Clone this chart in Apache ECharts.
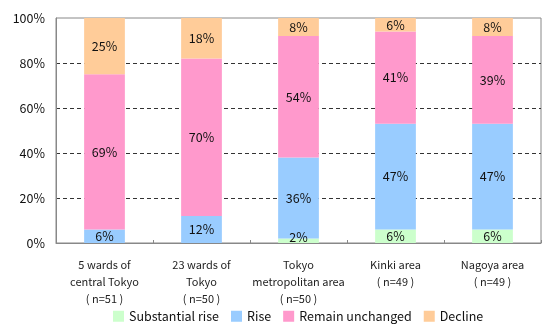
<!DOCTYPE html>
<html>
<head>
<meta charset="utf-8">
<script src="https://cdn.jsdelivr.net/npm/echarts@6/dist/echarts.min.js"></script>
<style>
  html, body { margin: 0; padding: 0; background: #fff; }
  #chart { width: 543px; height: 325px; }
</style>
</head>
<body>
<div id="chart"></div>
<script>
// Regions surveyed, with sample size
const categories = [
  '5 wards of\ncentral Tokyo\n( n=51 )',
  '23 wards of\nTokyo\n( n=50 )',
  'Tokyo\nmetropolitan area\n( n=50 )',
  'Kinki area\n( n=49 )',
  'Nagoya area\n( n=49 )'
];

// Share of responses (%) per outlook
const substantialRise = [0, 0, 2, 6, 6];
const rise            = [6, 12, 36, 47, 47];
const remainUnchanged = [69, 70, 54, 41, 39];
const decline         = [25, 18, 8, 6, 8];

const yTicks = [0, 20, 40, 60, 80, 100];

const FONT = '"Noto Sans CJK JP", "Noto Sans", sans-serif';

function stackSeries(name, data, color) {
  return {
    name: name,
    type: 'bar',
    stack: 'total',
    barWidth: '42%',
    // very thin segments get their label nudged up so it stays readable
    data: data.map(v => (v > 0 && v < 4
      ? { value: v, label: { offset: [0, -4] } }
      : v)),
    itemStyle: { color: color },
    label: {
      show: true,
      position: 'inside',
      color: '#111',
      fontSize: 12.5,
      fontFamily: FONT,
      formatter: p => (p.value > 0 ? p.value + '%' : '')
    }
  };
}

const chart = echarts.init(document.getElementById('chart'));
chart.setOption({
  animation: false,
  grid: {
    left: 56, right: 2, top: 18, bottom: 82,
    show: true, borderColor: '#888', borderWidth: 1, backgroundColor: '#fff'
  },
  legend: {
    top: 305,
    left: 108,
    itemWidth: 11,
    itemHeight: 11,
    itemGap: 12,
    icon: 'rect',
    textStyle: { fontSize: 12.5, color: '#111', fontFamily: FONT },
    data: ['Substantial rise', 'Rise', 'Remain unchanged', 'Decline']
  },
  xAxis: {
    type: 'category',
    data: categories,
    axisLine: { lineStyle: { color: '#888' } },
    axisTick: { show: true, inside: true, length: 3, lineStyle: { color: '#888' } },
    axisLabel: {
      color: '#222', fontSize: 11, fontFamily: FONT, lineHeight: 17,
      margin: 13, interval: 0
    }
  },
  yAxis: {
    type: 'value',
    min: yTicks[0],
    max: yTicks[yTicks.length - 1],
    interval: 20,
    axisLine: { show: true, lineStyle: { color: '#888' } },
    axisTick: { show: false },
    axisLabel: {
      color: '#111', fontSize: 12.5, fontFamily: FONT, margin: 11,
      formatter: v => v + '%'
    },
    splitLine: {
      show: true,
      lineStyle: {
        type: [4, 3],
        width: 1,
        color: ['transparent', '#333', '#333', '#333', '#333', 'transparent']
      }
    }
  },
  series: [
    stackSeries('Substantial rise', substantialRise, '#CCFFCC'),
    stackSeries('Rise', rise, '#99CCFF'),
    stackSeries('Remain unchanged', remainUnchanged, '#FF99CC'),
    stackSeries('Decline', decline, '#FFCC99')
  ]
});
</script>
</body>
</html>
